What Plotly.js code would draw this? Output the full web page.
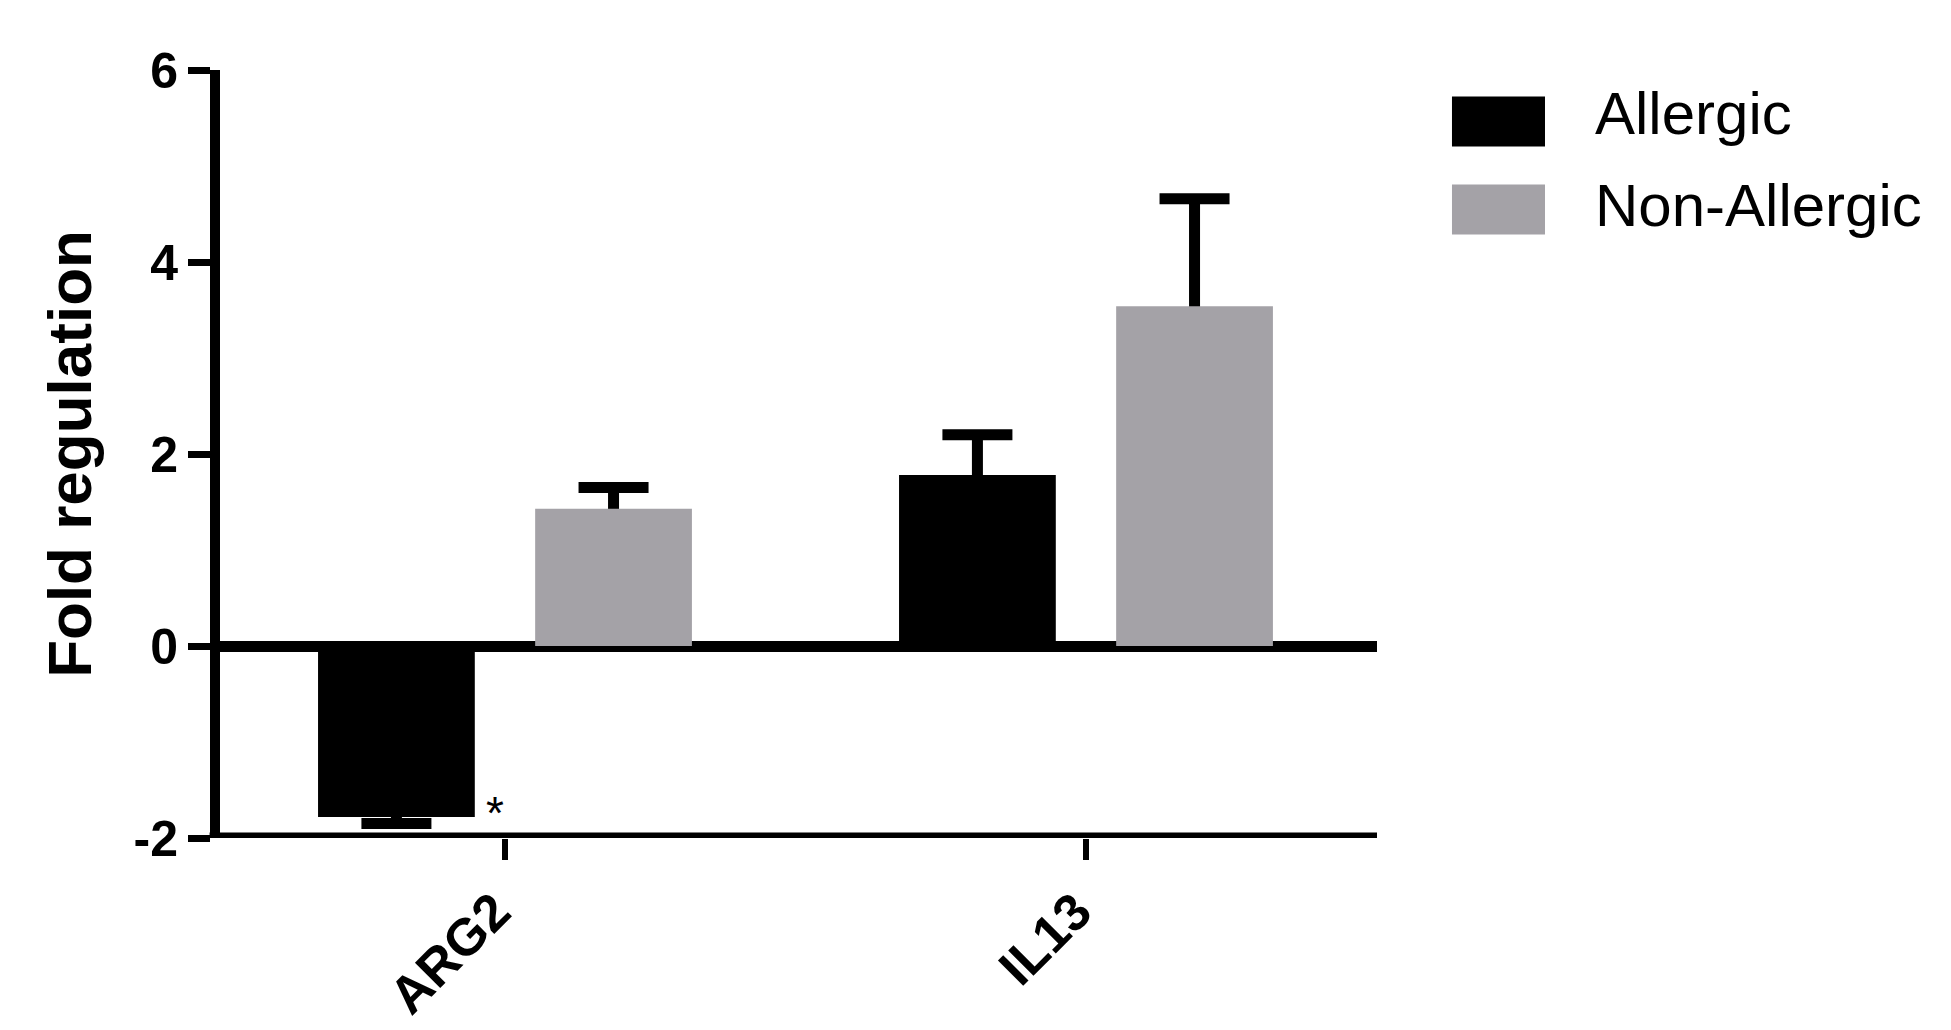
<!DOCTYPE html>
<html>
<head>
<meta charset="utf-8">
<script src="https://cdn.plot.ly/plotly-3.0.1.min.js"></script>
<style>
  html, body { margin: 0; padding: 0; background: #ffffff; }
  #chart { width: 1951px; height: 1030px; }
</style>
</head>
<body>
<div id="chart"></div>
<script>
// ---- Data ----
const categories = ['ARG2', 'IL13'];
const seriesNames = ['Allergic', 'Non-Allergic'];
const allergicValues = [-1.78, 1.78];
const allergicErrors = [0.07, 0.42];
const nonAllergicValues = [1.43, 3.54];
const nonAllergicErrors = [0.22, 1.12];
const yTickValues = [-2, 0, 2, 4, 6];
const yTickLabels = ['-2', '0', '2', '4', '6'];
const significanceMark = '*';
const significanceIndex = 0;

const seriesColors = ['#000000', '#a4a2a7'];
const FONT = 'Liberation Sans, Arial, sans-serif';

// Error bars are drawn from an invisible bar trace placed underneath each
// visible series (same offsetgroup) so only the outer cap shows, GraphPad style.
const errStyle = { type: 'data', symmetric: true, color: '#000000', thickness: 11, width: 35 };

const series = [
  { name: seriesNames[0], y: allergicValues, err: allergicErrors, color: seriesColors[0], group: 'g1' },
  { name: seriesNames[1], y: nonAllergicValues, err: nonAllergicErrors, color: seriesColors[1], group: 'g2' }
];

const traces = [];
series.forEach(s => {
  traces.push({
    type: 'bar', name: s.name + ' SEM', x: categories, y: s.y, offsetgroup: s.group,
    marker: { color: 'rgba(0,0,0,0)', line: { width: 0 } },
    error_y: Object.assign({}, errStyle, { array: s.err }),
    showlegend: false, hoverinfo: 'skip'
  });
});
series.forEach(s => {
  traces.push({
    type: 'bar', name: s.name, x: categories, y: s.y, offsetgroup: s.group,
    marker: { color: s.color, line: { width: 0 } },
    showlegend: false
  });
});

// manual legend (large swatches like the reference)
const legendBoxes = [[0.9655, 0.9004], [0.8509, 0.7858]];
const legendTextY = [0.944, 0.823];
const shapes = [];
const annotations = [];
seriesNames.forEach((name, i) => {
  shapes.push({
    type: 'rect', xref: 'paper', yref: 'paper',
    x0: 1.0648, x1: 1.1452, y0: legendBoxes[i][1], y1: legendBoxes[i][0],
    fillcolor: seriesColors[i], line: { width: 0 }
  });
  annotations.push({
    xref: 'paper', yref: 'paper', x: 1.1867, y: legendTextY[i],
    xanchor: 'left', yanchor: 'middle', showarrow: false, text: name,
    font: { family: FONT, size: 60, color: '#000000' }
  });
});

// x-axis baseline drawn at y = -2 (axis minimum)
shapes.push({
  type: 'line', xref: 'paper', yref: 'y', x0: -0.009, x1: 1, y0: yTickValues[0], y1: yTickValues[0],
  line: { color: '#000000', width: 11 }, layer: 'above'
});

// significance star next to ARG2 Allergic bar
annotations.push({
  xref: 'x', yref: 'y', x: significanceIndex, y: allergicValues[significanceIndex],
  xshift: -10, yshift: 4, xanchor: 'center', yanchor: 'middle', showarrow: false,
  text: significanceMark,
  font: { family: FONT, size: 46, color: '#000000' }
});

const layout = {
  width: 1951, height: 1030,
  margin: { l: 220, r: 574, t: 70, b: 192, pad: 0 },
  paper_bgcolor: '#ffffff', plot_bgcolor: '#ffffff',
  barmode: 'group', bargap: 0.2526, bargroupgap: 0.278,
  showlegend: false,
  font: { family: FONT, color: '#000000' },
  xaxis: {
    type: 'category', range: [-0.4905, 1.5009],
    showline: false,
    ticks: 'outside', ticklen: 21, tickwidth: 6, tickcolor: '#000000',
    tickangle: -45, showgrid: false, zeroline: false,
    ticklabelshift: -10,
    tickfont: { family: FONT, size: 52, color: '#000000', weight: 'bold' }
  },
  yaxis: {
    range: [-2, 6], tickvals: yTickValues, ticktext: yTickLabels,
    showline: true, linecolor: '#000000', linewidth: 10,
    ticks: 'outside', ticklen: 22, tickwidth: 7, tickcolor: '#000000',
    showgrid: false, zeroline: true, zerolinecolor: '#000000', zerolinewidth: 11,
    tickfont: { family: FONT, size: 50, color: '#000000', weight: 'bold' },
    title: { text: 'Fold regulation', standoff: 26,
      font: { family: FONT, size: 62, color: '#000000', weight: 'bold' } }
  },
  shapes: shapes,
  annotations: annotations
};

Plotly.newPlot('chart', traces, layout, { displayModeBar: false, staticPlot: true });
</script>
</body>
</html>
